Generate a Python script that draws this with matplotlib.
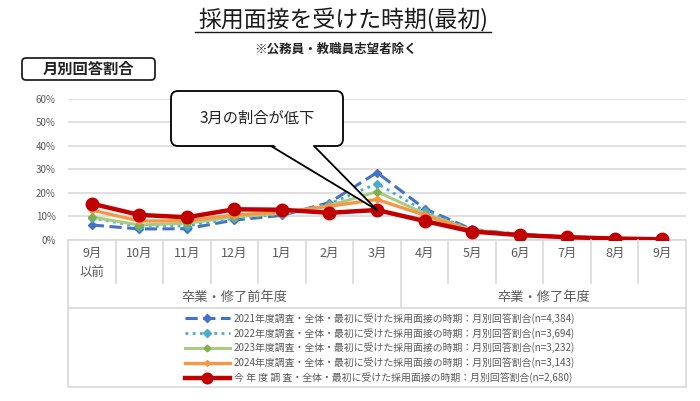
import matplotlib
matplotlib.use("Agg")
import matplotlib.pyplot as plt
from matplotlib.patches import FancyBboxPatch, Rectangle, Polygon

plt.rcParams['font.family'] = ['Noto Sans CJK JP', 'DejaVu Sans']

# data (% of respondents by month of first interview)
months = ['9月\n以前', '10月', '11月', '12月', '1月', '2月', '3月',
          '4月', '5月', '6月', '7月', '8月', '9月']
groups = ['卒業・修了前年度', '卒業・修了年度']
group_sizes = [7, 6]
y2021 = [6.2, 4.5, 4.6, 8.3, 10.3, 15.8, 28.6, 13.2, 4.3, 2.2, 1.1, 0.5, 0.2]
y2022 = [9.2, 5.5, 5.8, 9.0, 10.8, 15.2, 23.9, 12.2, 4.2, 2.1, 1.0, 0.4, 0.2]
y2023 = [9.6, 6.2, 6.9, 9.7, 11.2, 14.5, 20.4, 11.1, 4.0, 2.0, 1.0, 0.4, 0.1]
y2024 = [12.6, 7.9, 8.0, 10.5, 11.6, 14.2, 17.1, 10.4, 3.8, 1.9, 0.9, 0.4, 0.1]
y2025 = [15.3, 10.5, 9.5, 12.9, 12.7, 11.4, 12.6, 7.9, 3.4, 1.9, 1.0, 0.4, 0.1]
labels = [
    '2021年度調査・全体・最初に受けた採用面接の時期：月別回答割合(n=4,384)',
    '2022年度調査・全体・最初に受けた採用面接の時期：月別回答割合(n=3,694)',
    '2023年度調査・全体・最初に受けた採用面接の時期：月別回答割合(n=3,232)',
    '2024年度調査・全体・最初に受けた採用面接の時期：月別回答割合(n=3,143)',
    '今 年 度 調 査・全体・最初に受けた採用面接の時期：月別回答割合(n=2,680)',
]

W, H = 700, 401
fig = plt.figure(figsize=(W / 100, H / 100), dpi=100)

# plot area in pixel coordinates
x0, x1 = 68, 686
ybase, ytop = 239.5, 99
ax = fig.add_axes([x0 / W, 1 - ybase / H, (x1 - x0) / W, (ybase - ytop) / H])
xs = list(range(len(months)))

gray = '#595959'
ax.plot(xs, y2021, color='#4472C4', lw=2.2, ls=(0, (4, 1.8)), marker='D', ms=4.5, label=labels[0], zorder=3)
ax.plot(xs, y2022, color='#4BACC6', lw=2.0, ls=(0, (1, 1.6)), marker='D', ms=4.5, label=labels[1], zorder=3)
ax.plot(xs, y2023, color='#A9CD80', lw=2.2, marker='D', ms=4, mfc='#7FAF4F', mec='#7FAF4F', label=labels[2], zorder=3)
ax.plot(xs, y2024, color='#F79646', lw=2.4, marker='D', ms=3.5, label=labels[3], zorder=3)
ax.plot(xs, y2025, color='#C00000', lw=3.2, marker='o', ms=9, label=labels[4], zorder=4)

ax.set_xlim(-0.5, len(months) - 0.5)
ax.set_ylim(0, 60)
ax.set_yticks(range(0, 61, 10))
ax.set_yticklabels([f'{v}%' for v in range(0, 61, 10)], fontsize=7, color=gray)
ax.set_xticks([])
ax.tick_params(axis='y', length=0, pad=9)
ax.grid(axis='y', color='#D9D9D9', lw=1.2)
ax.set_axisbelow(True)
for s in ['top', 'right', 'left']:
    ax.spines[s].set_visible(False)
ax.spines['bottom'].set_color('#D9D9D9')
ax.spines['bottom'].set_linewidth(1.2)

# overlay in pixel coords for category table, callout, headers
ov = fig.add_axes([0, 0, 1, 1], zorder=10)
ov.set_xlim(0, W)
ov.set_ylim(H, 0)
ov.axis('off')
ov.patch.set_alpha(0)

cw = (x1 - x0) / len(months)
lc = '#D9D9D9'
for i in range(len(months) + 1):
    bottom = 308 if i in (0, group_sizes[0], len(months)) else 283
    ov.plot([x0 + i * cw, x0 + i * cw], [ybase, bottom], color=lc, lw=1.2)
for i, m in enumerate(months):
    cx = x0 + (i + 0.5) * cw
    lines = m.split('\n')
    ov.text(cx, 253, lines[0], ha='center', va='center', fontsize=9, color=gray)
    if len(lines) > 1:
        ov.text(cx, 272, lines[1], ha='center', va='center', fontsize=9, color=gray)
start = 0
for g, n in zip(groups, group_sizes):
    cx = x0 + (start + n / 2) * cw
    ov.text(cx, 297, g, ha='center', va='center', fontsize=9.5, color=gray)
    start += n

# legend box
ov.add_patch(Rectangle((x0, 308), x1 - x0, 79, fill=False, ec=lc, lw=1.2))
handles, labs = ax.get_legend_handles_labels()
leg = fig.legend(handles, labs, loc='center', bbox_to_anchor=(380 / W, 1 - 348 / H),
                 frameon=False, fontsize=7.1, handlelength=4.6, labelspacing=0.4,
                 handletextpad=0.4, borderpad=0, markerscale=0.85)
for t in leg.get_texts():
    t.set_color(gray)

# callout
tip = ax.transData.transform((6, y2025[6]))
tx, ty = tip[0], H - tip[1]
ov.add_patch(FancyBboxPatch((171, 91), 172, 55, boxstyle='round,pad=0,rounding_size=7',
                            fc='white', ec='black', lw=1.3, zorder=5))
ov.add_patch(Polygon([(272, 144), (313, 144), (tx, ty)], closed=True, fc='white', ec='none', zorder=6))
ov.plot([271, tx], [146, ty], color='black', lw=1.3, zorder=7)
ov.plot([314, tx], [146, ty], color='black', lw=1.3, zorder=7)
ov.text(257, 118, '3月の割合が低下', ha='center', va='center', fontsize=11, color='#222222', zorder=8)

# headers
ov.text(343, 20, '採用面接を受けた時期(最初)', ha='center', va='center', fontsize=16.5, color='#1a1a1a')
ov.plot([195, 491], [32, 32], color='#1a1a1a', lw=1.0)
ov.text(336, 49, '※公務員・教職員志望者除く', ha='center', va='center', fontsize=9,
        fontweight='bold', color='#222222')
ov.add_patch(FancyBboxPatch((22, 58), 133, 22, boxstyle='round,pad=0,rounding_size=4',
                            fc='white', ec='#222222', lw=1.3))
ov.text(88, 69, '月別回答割合', ha='center', va='center', fontsize=11, fontweight='bold', color='#222222')

fig.savefig('out.png', dpi=100)
